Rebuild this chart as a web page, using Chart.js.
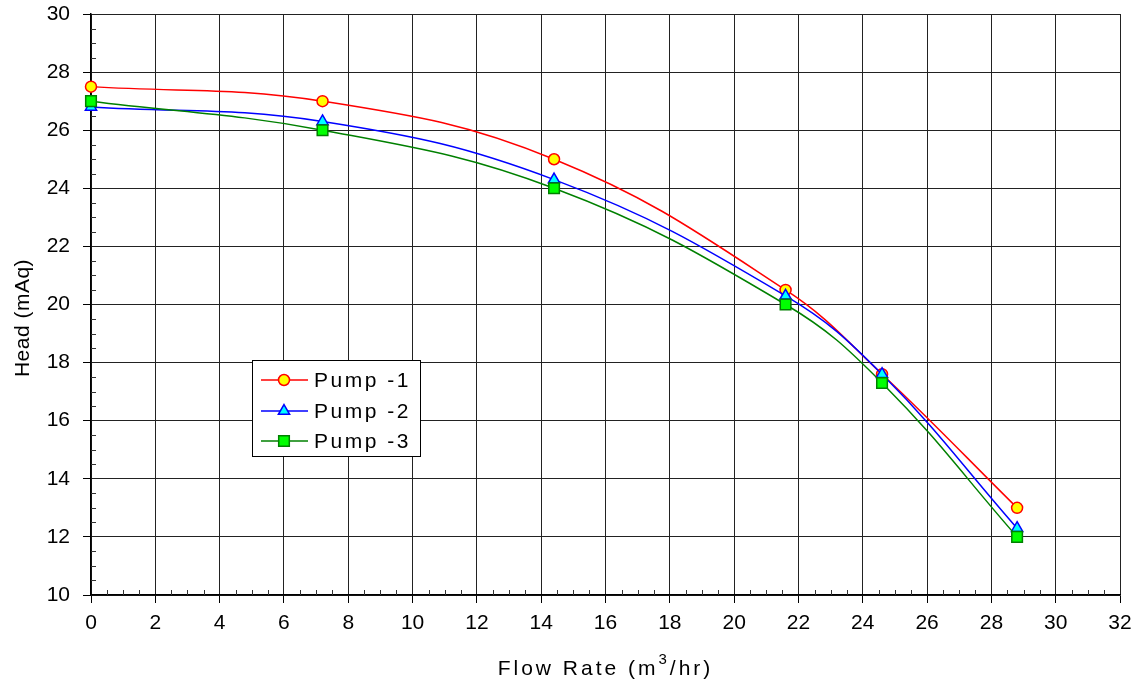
<!DOCTYPE html>
<html><head><meta charset="utf-8">
<script src="https://cdn.jsdelivr.net/npm/chart.js@4.4.1/dist/chart.umd.min.js"></script>
<style>html,body{margin:0;padding:0;background:#fff}#wrap{width:1141px;height:686px;position:relative}</style>
</head><body><div id="wrap"><canvas id="c" width="1141" height="686"></canvas></div>
<script>
const flowRates = [0, 7.2, 14.4, 21.6, 24.6, 28.8];
const pump1 = [27.5, 27.0, 25.0, 20.5, 17.6, 13.0];
const pump2 = [26.8, 26.3, 24.3, 20.3, 17.6, 12.3];
const pump3 = [27.0, 26.0, 24.0, 20.0, 17.3, 12.0];
const seriesNames = ['Pump -1', 'Pump -2', 'Pump -3'];
const xTitleParts = ['Flow Rate (m', '3', '/hr)'];
const yTitle = 'Head (mAq)';
const xRange = [0, 32, 2];
const yRange = [10, 30, 2];

const FONT = "'Liberation Sans', Arial, sans-serif";
const styles = [
  {line: '#ff0000', fill: '#ffff00', stroke: '#ff0000', shape: 'circle', r: 5.5},
  {line: '#0000ff', fill: '#00ffff', stroke: '#0000ff', shape: 'triangle', r: 6.5},
  {line: '#008000', fill: '#00ff00', stroke: '#008000', shape: 'rect', r: 7.5}
];
const seriesData = [pump1, pump2, pump3];

function toPoints(ys) { return flowRates.map((x, i) => ({x: x, y: ys[i]})); }

function drawMarker(ctx, st, x, y) {
  ctx.save();
  ctx.fillStyle = st.fill; ctx.strokeStyle = st.stroke; ctx.lineWidth = 1.5;
  ctx.beginPath();
  if (st.shape === 'circle') {
    ctx.arc(x, y, st.r, 0, Math.PI * 2);
  } else if (st.shape === 'triangle') {
    const r = st.r;
    ctx.moveTo(x, y - r);
    ctx.lineTo(x + r * Math.sin(Math.PI / 3), y + r * 0.5);
    ctx.lineTo(x - r * Math.sin(Math.PI / 3), y + r * 0.5);
    ctx.closePath();
  } else {
    const s = Math.SQRT1_2 * st.r;
    ctx.rect(x - s, y - s, 2 * s, 2 * s);
  }
  ctx.fill(); ctx.stroke();
  ctx.restore();
}

const decor = {
  id: 'decor',
  beforeDatasetsDraw(chart) {
    const ctx = chart.ctx, xs = chart.scales.x, ys = chart.scales.y, a = chart.chartArea;
    ctx.save();
    ctx.strokeStyle = '#333'; ctx.lineWidth = 1;
    ctx.beginPath();
    for (let v = xRange[0]; v < xRange[1]; v += 0.5) {
      if (Math.abs(v % 2) < 1e-6) continue;
      const px = Math.round(xs.getPixelForValue(v)) + 0.5;
      ctx.moveTo(px, a.bottom); ctx.lineTo(px, a.bottom - 5);
    }
    for (let v = yRange[0]; v < yRange[1]; v += 0.5) {
      if (Math.abs(v % 2) < 1e-6) continue;
      const py = Math.round(ys.getPixelForValue(v)) + 0.5;
      ctx.moveTo(a.left, py); ctx.lineTo(a.left + 5, py);
    }
    ctx.stroke();
    ctx.restore();
  },
  afterDraw(chart) {
    const ctx = chart.ctx, a = chart.chartArea;
    ctx.save();
    ctx.fillStyle = '#000';
    // x title
    ctx.font = '21px ' + FONT;
    ctx.letterSpacing = '3px';
    ctx.textBaseline = 'alphabetic';
    ctx.textAlign = 'left';
    const w0 = ctx.measureText(xTitleParts[0]).width;
    const w2 = ctx.measureText(xTitleParts[2]).width;
    ctx.font = '15px ' + FONT;
    const w1 = ctx.measureText(xTitleParts[1]).width;
    const total = w0 + w1 + w2;
    let x = (a.left + a.right) / 2 - total / 2;
    const base = 675;
    ctx.font = '21px ' + FONT;
    ctx.fillText(xTitleParts[0], x, base); x += w0;
    ctx.font = '15px ' + FONT;
    ctx.fillText(xTitleParts[1], x, base - 11); x += w1;
    ctx.font = '21px ' + FONT;
    ctx.fillText(xTitleParts[2], x, base);
    // y title
    ctx.save();
    ctx.translate(23, 318);
    ctx.rotate(-Math.PI / 2);
    ctx.letterSpacing = '0.5px';
    ctx.textAlign = 'center';
    ctx.textBaseline = 'middle';
    ctx.font = '21px ' + FONT;
    ctx.fillText(yTitle, 0, 0);
    ctx.restore();
    // legend
    const L = 252.5, T = 360.5, W = 168, H = 96;
    ctx.fillStyle = '#fff';
    ctx.fillRect(L, T, W, H);
    ctx.strokeStyle = '#000'; ctx.lineWidth = 1;
    ctx.strokeRect(L, T, W, H);
    const rows = [380, 411, 441];
    ctx.letterSpacing = '2.5px';
    ctx.font = '21px ' + FONT;
    ctx.textAlign = 'left';
    ctx.textBaseline = 'middle';
    seriesNames.forEach((name, i) => {
      const st = styles[i], yy = rows[i];
      ctx.strokeStyle = st.line; ctx.lineWidth = 1.5;
      ctx.beginPath(); ctx.moveTo(261, yy); ctx.lineTo(308, yy); ctx.stroke();
      drawMarker(ctx, st, 284, yy);
      ctx.fillStyle = '#000';
      ctx.fillText(name, 314, yy + 1);
    });
    ctx.restore();
  }
};

const datasets = seriesNames.map((name, i) => ({
  label: name,
  data: toPoints(seriesData[i]),
  borderColor: styles[i].line,
  borderWidth: 1.5,
  backgroundColor: styles[i].fill,
  pointBackgroundColor: styles[i].fill,
  pointBorderColor: styles[i].stroke,
  pointBorderWidth: 1.5,
  pointStyle: styles[i].shape,
  pointRadius: styles[i].r,
  pointHoverRadius: styles[i].r,
  tension: 0.4,
  fill: false,
  clip: false,
  order: 3 - i
}));

new Chart(document.getElementById('c'), {
  type: 'line',
  data: {datasets: datasets},
  options: {
    responsive: false,
    devicePixelRatio: 1,
    animation: false,
    layout: {padding: {top: 14, right: 21, left: 0, bottom: 0}},
    plugins: {legend: {display: false}, tooltip: {enabled: false}},
    scales: {
      x: {
        type: 'linear', min: xRange[0], max: xRange[1],
        afterFit(s) { s.height = 91; s.paddingLeft = 0; s.paddingRight = 0; },
        ticks: {stepSize: xRange[2], color: '#000', font: {family: FONT, size: 21}, padding: 8, maxRotation: 0, autoSkip: false},
        grid: {color: '#222', lineWidth: 1, tickLength: 8, tickColor: '#000'},
        border: {color: '#000', width: 1.5},
        title: {display: false}
      },
      y: {
        type: 'linear', min: yRange[0], max: yRange[1],
        afterFit(s) { s.width = 91; s.paddingTop = 0; s.paddingBottom = 0; },
        ticks: {stepSize: yRange[2], color: '#000', font: {family: FONT, size: 21}, padding: 13, autoSkip: false},
        grid: {color: '#222', lineWidth: 1, tickLength: 8, tickColor: '#000'},
        border: {color: '#000', width: 1.5},
        title: {display: false}
      }
    }
  },
  plugins: [decor]
});
</script></body></html>
